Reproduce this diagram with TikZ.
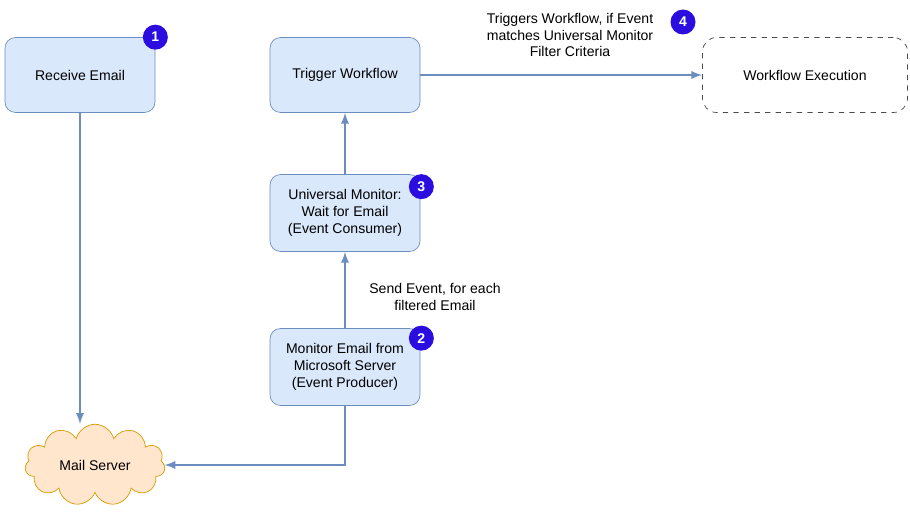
\documentclass[tikz,border=0pt]{standalone}
\usepackage{fontspec}
\setmainfont{Liberation Sans}
\usetikzlibrary{shapes,shapes.symbols,arrows,positioning}
\definecolor{boxfill}{HTML}{DAE8FC}
\definecolor{boxline}{HTML}{6C8EBF}
\definecolor{cloudfill}{HTML}{FFE6CC}
\definecolor{cloudline}{HTML}{D79B00}
\definecolor{badge}{HTML}{2B0EDF}
\tikzset{
  stage/.style={draw=boxline,fill=boxfill,rounded corners=6pt,minimum width=3cm,minimum height=1.5cm,align=center,font=\fontsize{8}{9.5}\selectfont},
  ext/.style={draw=black!70,dashed,rounded corners=8pt,minimum width=4.1cm,minimum height=1.5cm,font=\fontsize{8}{9.5}\selectfont},
  num/.style={circle,fill=badge,text=white,inner sep=0pt,minimum size=0.5cm,font=\fontsize{8}{9}\selectfont\bfseries},
  flow/.style={draw=boxline,line width=1.1pt,-latex},
  note/.style={align=center,font=\fontsize{8}{9.5}\selectfont}
}
\begin{document}
\begin{tikzpicture}
\useasboundingbox (0,0) rectangle (18.2,10.44);
% Top row
\node[stage] (receive) at (1.6,8.94) {Receive Email};
\node[stage] (trigger) at (6.9,8.94) {Trigger Workflow};
\node[ext] (exec) at (16.1,8.94) {Workflow Execution};
% Middle column
\node[stage,minimum height=1.54cm] (monitor) at (6.9,6.18) {Universal Monitor:\\Wait for Email\\(Event Consumer)};
\node[stage,minimum height=1.54cm] (producer) at (6.9,3.1) {Monitor Email from\\Microsoft Server\\(Event Producer)};
% Cloud
\node[cloud,cloud puffs=11,aspect=2,draw=cloudline,fill=cloudfill,minimum width=2.8cm,minimum height=1.45cm,font=\fontsize{8}{9.5}\selectfont] (mail) at (1.9,1.14) {Mail Server};
\coordinate (corner) at (producer.south |- mail.east);
% Badges
\node[num] at (receive.north east) {1};
\node[num] at ([xshift=0.02cm,yshift=-0.2cm]producer.north east) {2};
\node[num] at ([xshift=0.02cm,yshift=-0.25cm]monitor.north east) {3};
\node[num] at (13.66,10.0) {4};
% Arrows
\draw[flow] (receive.south) -- (receive.south |- mail.north);
\draw[flow] (producer.south) -- (corner) -- (mail.east);
\draw[flow] (producer.north) -- (monitor.south);
\draw[flow] (monitor.north) -- (trigger.south);
\draw[flow] (trigger.east) -- (exec.west);
% Labels
\node[note] at (11.4,9.74) {Triggers Workflow, if Event\\matches Universal Monitor\\Filter Criteria};
\node[note] at (8.7,4.5) {Send Event, for each\\filtered Email};
\end{tikzpicture}
\end{document}
